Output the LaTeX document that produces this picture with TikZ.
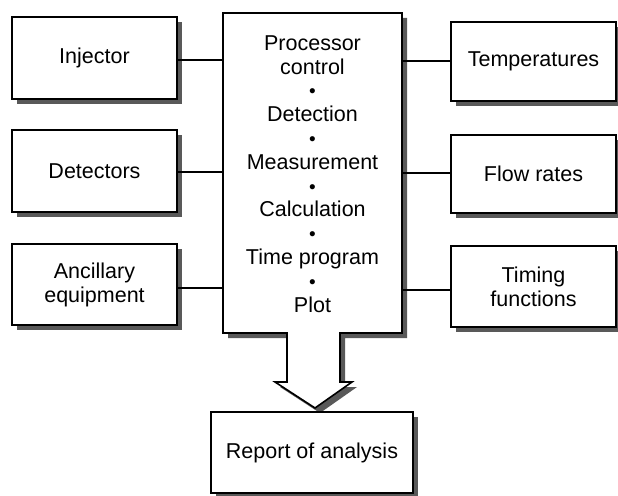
\documentclass[tikz,border=0pt]{standalone}
\usepackage{fontspec}
\setmainfont{Liberation Sans}
\usetikzlibrary{shadows,calc}
\definecolor{shd}{gray}{0.35}
\newcommand{\bul}{{\fontsize{19pt}{23.8pt}\selectfont •}}
\begin{document}
\begin{tikzpicture}[x=1pt,y=-1pt,
  box/.style={draw, line width=1.6pt, fill=white, inner sep=2pt, align=center,
    font=\fontsize{21.5pt}{24pt}\selectfont,
    drop shadow={shadow xshift=5pt, shadow yshift=-5pt, fill=shd, opacity=1}},
  link/.style={line width=1.6pt}]
\useasboundingbox (0,0) rectangle (618,495);
% central box shape with arrow (shadow then body)
\fill[shd] (228,18) -- (407,18) -- (407,338) -- (345,338) -- (345,387) -- (357,387)
  -- (320,413) -- (280,387) -- (292,387) -- (292,338) -- (228,338) -- cycle;
\draw[line width=1.6pt, fill=white, line join=miter] (223,13) -- (402,13) -- (402,333) -- (340,333) -- (340,382) -- (352,382)
  -- (315,408) -- (275,382) -- (287,382) -- (287,333) -- (223,333) -- cycle;
\node[minimum width=179pt, minimum height=320pt, inner sep=0pt] (cen) at (312.5,173) {};
\node[align=center, font=\fontsize{21.5pt}{23.8pt}\selectfont] (txt) at (312.5,174)
  {Processor\\control\\\bul\\Detection\\\bul\\Measurement\\\bul\\Calculation\\\bul\\Time program\\\bul\\Plot};
% side boxes
\node[box, minimum width=165pt, minimum height=82pt] (inj) at (94.5,58) {Injector};
\node[box, minimum width=165pt, minimum height=82pt] (det) at (94.5,171) {Detectors};
\node[box, minimum width=165pt, minimum height=81pt] (anc) at (94.5,284.5) {Ancillary\\equipment};
\node[box, minimum width=165pt, minimum height=79pt] (tem) at (533.5,61.5) {Temperatures};
\node[box, minimum width=165pt, minimum height=78pt] (flo) at (533.5,174) {Flow rates};
\node[box, minimum width=165pt, minimum height=81pt] (tim) at (533.5,286.5) {Timing\\functions};
\node[box, minimum width=202pt, minimum height=81pt] (rep) at (312,452.5) {Report of analysis};
% connectors
\coordinate (pinj) at ($(inj.east)+(0,2)$);
\coordinate (pdet) at ($(det.east)+(0,1)$);
\coordinate (panc) at ($(anc.east)+(0,3.5)$);
\coordinate (ptem) at ($(tem.west)+(0,-0.5)$);
\coordinate (pflo) at ($(flo.west)+(0,-1)$);
\coordinate (ptim) at ($(tim.west)+(0,3.5)$);
\draw[link] (pinj) -- (pinj -| cen.west);
\draw[link] (pdet) -- (pdet -| cen.west);
\draw[link] (panc) -- (panc -| cen.west);
\draw[link] (ptem) -- (ptem -| cen.east);
\draw[link] (pflo) -- (pflo -| cen.east);
\draw[link] (ptim) -- (ptim -| cen.east);
\end{tikzpicture}
\end{document}
